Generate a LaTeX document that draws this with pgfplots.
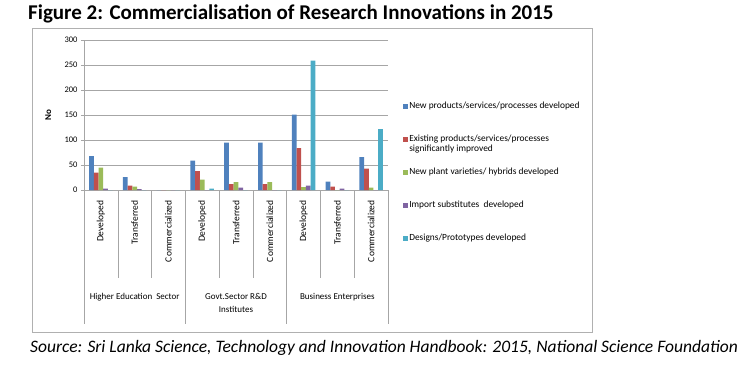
\documentclass[border=0pt]{standalone}
\usepackage{fontspec}
\setmainfont{Carlito}
\usepackage{pgfplots}
\pgfplotsset{compat=1.18}
\definecolor{cblue}{HTML}{4F81BD}
\definecolor{cred}{HTML}{C0504D}
\definecolor{cgreen}{HTML}{9BBB59}
\definecolor{cpurple}{HTML}{8064A2}
\definecolor{ccyan}{HTML}{4BACC6}
\definecolor{gridc}{HTML}{A6A6A6}
\definecolor{framec}{HTML}{B0B0B0}
\begin{document}
\begin{tikzpicture}
\path[use as bounding box] (0pt,0pt) rectangle (750pt,370pt);
\draw[framec] (32pt,38pt) rectangle (592pt,342pt);
\node[anchor=west,font=\fontsize{21}{24}\selectfont\bfseries,inner sep=0pt] at (28pt,356pt) {Figure 2: Commercialisation of Research Innovations in 2015};
\node[anchor=west,font=\fontsize{17.5}{20}\selectfont\itshape,inner sep=0pt] at (30pt,22pt) {Source: Sri Lanka Science, Technology and Innovation Handbook: 2015, National Science Foundation};
\begin{axis}[
  at={(84pt,180pt)}, anchor=south west,
  width=304pt, height=150pt, scale only axis,
  xmin=-0.5, xmax=8.5, ymin=0, ymax=300,
  ytick={0,50,...,300},
  xtick={0,...,8},
  xticklabels={Developed,Transferred,Commercialized,Developed,Transferred,Commercialized,Developed,Transferred,Commercialized},
  x tick label style={rotate=90,anchor=east,font=\fontsize{9.5}{11}\selectfont,xshift=-4pt},
  y tick label style={font=\fontsize{8.5}{10}\selectfont},
  /pgf/number format/assume math mode=true,
  x tick style={draw=none},
  y tick style={gridc},
  major tick length=3pt,
  tick align=outside,
  axis x line*=bottom, axis y line*=left,
  axis line style={gridc,-},
  ymajorgrids, grid style={gridc},
  ylabel={No},
  ylabel style={font=\fontsize{9}{11}\selectfont\bfseries,at={(axis description cs:-0.118,0.5)},anchor=center},
  ybar=0pt, bar width=4.7pt,
  every axis plot/.append style={draw=none},
  legend style={draw=none,fill=none,at={(axis description cs:1.04,0.61)},anchor=north west,
    font=\fontsize{9.4}{11}\selectfont,row sep=21.5pt,
    nodes={text height=6.5pt,text depth=2pt,inner sep=1.5pt}},
  legend cell align=left,
  legend image code/.code={\fill[#1,draw=none] (0pt,-2.2pt) rectangle (4.4pt,2.2pt);},
  clip=false,
]
\addplot[fill=cblue] coordinates {(0,68) (1,26) (2,0) (3,59) (4,95) (5,95) (6,151) (7,17) (8,66)};
\addplot[fill=cred] coordinates {(0,35) (1,9) (2,0) (3,38) (4,12) (5,12) (6,84) (7,7) (8,43)};
\addplot[fill=cgreen] coordinates {(0,45) (1,7) (2,0) (3,21) (4,16) (5,16) (6,6) (7,0) (8,5)};
\addplot[fill=cpurple] coordinates {(0,3) (1,2) (2,0) (3,0) (4,5) (5,0) (6,9) (7,3) (8,0)};
\addplot[fill=ccyan] coordinates {(0,0) (1,0) (2,0) (3,3) (4,0) (5,0) (6,259) (7,0) (8,122)};
\legend{New products/services/processes developed,
  {\smash{\begin{tabular}[t]{@{}l@{}}Existing products/services/processes\\[-1pt]significantly improved\end{tabular}}},
  New plant varieties/ hybrids developed,
  Import substitutes\ \ developed,
  Designs/Prototypes developed}
\pgfplotsinvokeforeach{0.5,1.5,3.5,4.5,6.5,7.5}{
  \draw[gridc] (axis cs:#1,0) -- ([yshift=-88pt]axis cs:#1,0);
}
\pgfplotsinvokeforeach{-0.5,2.5,5.5,8.5}{
  \draw[gridc] (axis cs:#1,0) -- ([yshift=-134pt]axis cs:#1,0);
}
\node[font=\fontsize{9}{11}\selectfont,anchor=north,align=center] at ([yshift=-100pt]axis cs:1,0) {Higher Education\ \ Sector};
\node[font=\fontsize{9}{12.5}\selectfont,anchor=north,align=center] at ([yshift=-100pt]axis cs:4,0) {Govt.Sector R\&D\\Institutes};
\node[font=\fontsize{9}{11}\selectfont,anchor=north,align=center] at ([yshift=-100pt]axis cs:7,0) {Business Enterprises};
\end{axis}
\end{tikzpicture}
\end{document}
